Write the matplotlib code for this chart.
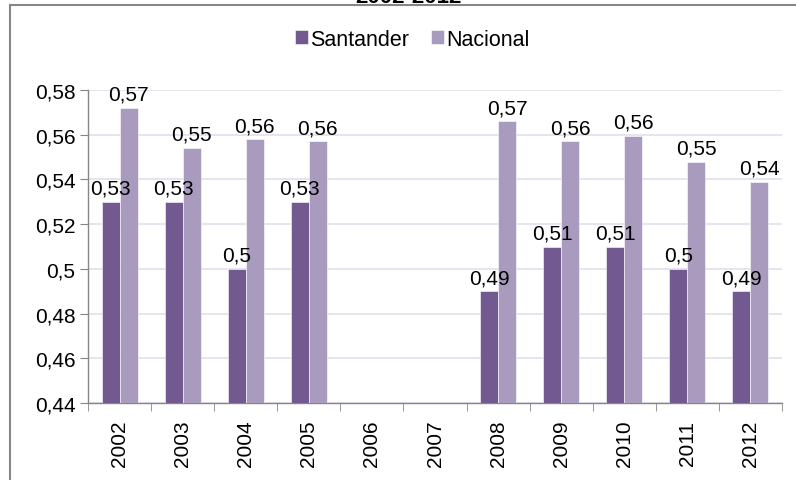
import numpy as np
import matplotlib.pyplot as plt
from matplotlib.lines import Line2D

plt.rcParams['font.family'] = ['Liberation Sans', 'DejaVu Sans']

# Datos
years = ['2002', '2003', '2004', '2005', '2006', '2007', '2008', '2009', '2010', '2011', '2012']
santander = [0.53, 0.53, 0.50, 0.53, np.nan, np.nan, 0.49, 0.51, 0.51, 0.50, 0.49]
nacional = [0.572, 0.554, 0.558, 0.557, np.nan, np.nan, 0.566, 0.557, 0.5595, 0.548, 0.539]
yticks = [0.44, 0.46, 0.48, 0.50, 0.52, 0.54, 0.56, 0.58]

c_sant = '#725990'
c_nac = '#A99BBD'
gray = '#868686'
fs = 15


def fmt(v):
    # formato "General" de Excel con coma decimal
    s = ('%.2f' % v).rstrip('0').rstrip('.')
    return s.replace('.', ',')


fig = plt.figure(figsize=(7.96, 4.81), dpi=100)
ax = fig.add_axes([88 / 796, 1 - 404 / 481, (782 - 88) / 796, (404 - 91) / 481])

x = np.arange(len(years))
w = 0.285
b1 = ax.bar(x - w / 2, santander, w, bottom=0, color=c_sant, edgecolor='white', linewidth=0.4,
            label='Santander', zorder=3)
b2 = ax.bar(x + w / 2, nacional, w, bottom=0, color=c_nac, edgecolor='white', linewidth=0.4,
            label='Nacional', zorder=3)

for xi, v in zip(x, santander):
    if not np.isnan(v):
        ax.annotate(fmt(v), (xi - w / 2, v), xytext=(0, 3), textcoords='offset points',
                    ha='center', va='bottom', fontsize=fs, annotation_clip=False, zorder=5)
for xi, v in zip(x, nacional):
    if not np.isnan(v):
        ax.annotate(fmt(v), (xi + w / 2, v), xytext=(0, 3), textcoords='offset points',
                    ha='center', va='bottom', fontsize=fs, annotation_clip=False, zorder=5)

ax.set_ylim(0.44, 0.58)
ax.set_xlim(-0.5, len(years) - 0.5)
ax.set_yticks(yticks)
ax.set_yticklabels([fmt(t) for t in yticks], fontsize=fs)
ax.yaxis.grid(True, color='#E4DFEC', linewidth=1.2, zorder=0)
ax.set_axisbelow(True)

ax.set_xticks(x)
ax.set_xticklabels(years, rotation=90, fontsize=fs)
ax.set_xticks(np.arange(-0.5, len(years), 1), minor=True)
ax.tick_params(axis='x', which='major', length=0, pad=12)
ax.tick_params(axis='x', which='minor', length=6, color=gray, direction='out')
ax.tick_params(axis='y', length=6, color=gray, direction='out', pad=3)

for s in ['top', 'right']:
    ax.spines[s].set_visible(False)
for s in ['left', 'bottom']:
    ax.spines[s].set_color(gray)
    ax.spines[s].set_linewidth(1)

fig.legend(handles=[b1, b2], loc='center', bbox_to_anchor=(0.518, 1 - 40 / 481), ncol=2,
           frameon=False, fontsize=15.5, handlelength=0.6, handleheight=0.6,
           handletextpad=0.1, columnspacing=1.0, borderpad=0.2)

# marco del area del grafico y titulo recortado
fig.add_artist(Line2D([10 / 796, 10 / 796], [0, 1 - 6 / 481], color=gray, linewidth=1.5))
fig.add_artist(Line2D([10 / 796, 1], [1 - 6 / 481, 1 - 6 / 481], color=gray, linewidth=1.5))
fig.text(0.513, 1 - 3 / 481, '2002-2012', ha='center', va='baseline', fontsize=16, fontweight='bold')

fig.savefig('out.png', dpi=100)
